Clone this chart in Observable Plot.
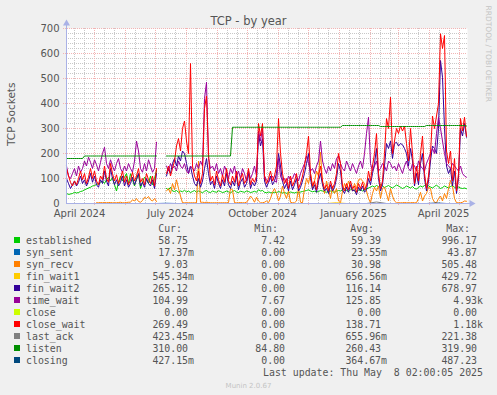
<!DOCTYPE html>
<html>
<head>
<meta charset="utf-8">
<script src="https://cdn.jsdelivr.net/npm/d3@7"></script>
<script src="https://cdn.jsdelivr.net/npm/@observablehq/plot@0.6"></script>
<style>
html, body { margin:0; padding:0; background:#f0f0f0; }
#wrap { position:relative; width:497px; height:395px; overflow:hidden; background:#f0f0f0; color:#555; font-family:"DejaVu Sans", sans-serif; }
#chart { position:absolute; left:0; top:0; }
.t { position:absolute; white-space:pre; line-height:1; }
.m { font-family:"DejaVu Sans Mono", monospace; font-size:9.9px; color:#555; }
</style>
</head>
<body>
<div id="wrap">
  <div id="chart"></div>
  <div class="t" style="left:0;width:497px;text-align:center;top:16.3px;font-size:11.5px;">TCP - by year</div>
  <div class="t" style="left:-49.3px;width:120px;text-align:center;top:109.25px;font-size:10.5px;transform:rotate(-90deg);">TCP Sockets</div>
  <div class="t" style="left:437.8px;width:100px;text-align:center;top:49.7px;font-size:7.5px;color:#c4c4c4;transform:rotate(90deg);">RRDTOOL / TOBI OETIKER</div>
  <div id="legend"></div>
  <div class="t" style="left:0;width:497px;text-align:center;top:383px;font-size:7px;color:#c4c4c4;">Munin 2.0.67</div>
</div>
<script>
// ---- time axis ----
const firstDay = "2024-04-03";
const lastDay = "2025-05-09";
const stepDays = 2;        // main series: one value every 2 days
const sparseStepDays = 10; // near-zero series: one value every 10 days
const labelTicks = ["2024-04-16", "2024-07-16", "2024-10-16", "2025-01-15", "2025-04-15"];
const yTicks = [0, 100, 200, 300, 400, 500, 600, 700];

// ---- series values ----
const established = [
41,36,38,40,45,42,44,48,50,55,
58,62,65,70,72,76,79,85,90,80,
95,105,90,105,75,50,85,110,90,105,
120,80,119,95,70,100,118,60,85,105,
95,80,110,75,100,132,null,null,null,null,
60,55,65,50,48,52,45,50,47,53,
46,50,44,48,52,45,50,47,43,49,
52,46,44,50,47,45,51,48,44,46,
50,47,43,48,52,46,44,49,47,45,
50,48,44,46,49,45,55,50,52,45,
43,46,44,42,45,43,48,45,42,44,
41,43,46,44,42,45,43,46,48,50,
52,55,50,47,49,46,48,52,50,47,
45,48,50,47,45,49,52,50,55,60,
52,48,55,58,50,47,53,56,50,54,
58,62,65,70,66,72,68,75,70,64,
68,72,66,62,68,74,70,65,60,64,
70,66,62,68,60,58,64,70,66,72,
78,70,66,62,68,74,66,60,64,70,
66,62,68,72,65,60,66,62,60,62,
59];

const synSent = [0,0,0,0,0,0,0,0,0,0, 1,0,0,0,0,0,0,0,0,0, 0,0,0,0,0,0,0,0,0,0, 0,0,0,0,0,0,0,0,0,0, 0];

const synRecv = [
null,null,null,null,null,null,null,null,null,null,
null,null,null,null,null,3,3,4,3,4,
3,4,4,3,3,3,4,5,3,3,
4,5,5,15,10,20,8,5,12,25,
20,28,15,10,20,8,null,null,null,null,
50,60,40,80,55,95,60,30,3,3,
3,3,3,3,3,3,170,5,5,4,
5,4,3,3,3,3,3,3,3,3,
3,3,60,55,3,3,3,4,3,3,
5,15,30,20,5,25,10,3,3,5,
10,3,20,45,60,40,10,30,70,40,
20,50,5,3,3,10,60,5,3,60,
100,80,120,60,90,130,110,205,80,40,
90,60,20,70,40,60,10,3,50,80,
60,90,70,50,80,60,95,99,90,80,
50,20,3,40,65,50,70,20,60,65,
40,10,60,30,10,3,3,3,3,4,
3,3,3,4,3,3,20,45,10,30,
40,65,60,20,5,3,20,30,10,40,
20,60,92,70,20,3,3,3,5,10,
9];

const finWait1 = [0,0,0,0,0,0,0,0,0,0, 0,0,0,0,0,0,0,0,0,0, 0,0,0,0,0,0,0,3,0,0, 0,0,0,0,0,0,0,0,0,0, 0];

const finWait2 = [
100,80,60,75,90,70,85,110,80,95,
70,90,120,85,110,75,65,95,80,130,
90,70,140,100,75,95,70,85,110,70,
95,65,80,105,75,95,120,70,85,65,
100,80,70,95,60,120,null,null,null,null,
110,140,120,160,180,150,190,170,210,200,
160,120,150,110,80,70,100,65,90,140,
180,120,75,90,60,110,80,60,95,70,
120,75,60,90,70,110,55,85,100,65,
80,120,60,85,70,90,280,230,260,90,
65,85,110,75,90,120,200,150,90,60,
80,50,90,55,75,100,50,65,90,120,
160,200,100,55,75,45,90,120,75,50,
60,40,75,50,65,100,160,130,55,40,
65,45,75,50,55,35,65,50,70,45,
55,100,75,120,160,220,100,50,75,150,
240,220,250,180,240,245,230,240,235,220,
200,150,220,170,70,120,75,160,200,100,
50,90,170,230,220,200,300,572,505,300,
150,120,140,70,130,40,100,300,270,320,
265];

const timeWait = [
150,110,100,120,140,110,150,125,140,170,
150,185,165,140,175,155,130,165,200,225,
160,140,175,150,130,160,180,140,125,150,
130,160,140,125,170,250,210,140,125,160,
130,175,150,125,140,245,null,null,null,null,
150,130,160,140,150,130,170,150,140,160,
130,120,150,140,130,160,140,170,150,420,
485,180,140,150,130,160,120,140,110,150,
130,100,140,120,150,110,130,100,140,120,
90,130,100,120,150,110,290,250,300,110,
95,85,100,110,90,85,180,110,90,100,
80,110,95,100,120,110,90,120,140,160,
190,160,130,140,120,150,170,250,170,140,
120,150,130,160,140,180,190,160,140,130,
170,150,130,160,140,120,150,170,140,200,
280,345,160,130,150,170,130,140,160,150,
130,170,160,140,150,130,160,140,120,150,
170,140,130,160,150,130,170,150,140,130,
160,180,200,220,200,280,345,300,250,200,
160,150,140,160,150,140,130,150,120,110,
105];

const closeState = [0,0,0,0,0,0,0,0,0,0, 0,0,0,0,0,0,0,0,0,0, 0,0,0,0,0,0,0,0,0,0, 0,0,0,0,0,0,0,0,0,0, 0];

const closeWait = [
140,110,85,70,90,75,100,130,95,120,
80,105,140,100,130,90,75,110,95,150,
100,85,160,120,90,115,80,100,130,85,
110,75,95,125,90,110,140,85,100,75,
120,95,80,110,70,140,null,null,null,null,
120,150,110,140,170,230,260,210,300,330,
250,200,560,150,110,90,130,80,120,380,
430,200,90,110,75,130,95,70,115,85,
140,90,75,110,85,130,70,100,120,80,
95,140,75,100,85,110,320,270,320,110,
80,100,130,90,110,150,340,200,120,80,
100,60,110,70,90,120,60,80,110,150,
200,270,120,70,90,55,110,150,90,60,
75,50,90,60,80,120,200,160,70,50,
80,55,90,60,70,45,80,60,85,55,
70,130,90,150,200,280,120,60,90,200,
340,300,425,200,250,300,280,310,290,310,
240,170,300,200,80,150,90,200,270,120,
60,110,200,350,300,350,400,679,620,672,
210,160,210,90,180,50,120,340,290,345,
269];

const lastAck = [0,0,0,0,0,0,0,0,0,0, 0,0,0,0,0,0,0,0,0,0, 0,0,0,0,0,0,0,0,0,0, 0,6,0,0,0,0,0,0,0,0, 0];

const listen = [
180,180,180,180,180,180,180,180,180,190,
190,190,190,190,190,190,190,190,190,190,
190,190,190,190,190,190,190,190,190,190,
190,190,190,190,190,190,190,190,190,190,
190,190,190,190,190,190,null,null,null,null,
190,190,190,190,190,190,190,190,190,190,
190,190,190,190,190,190,190,190,190,190,
190,190,190,190,190,190,190,190,190,190,
190,190,190,305,305,305,305,305,305,305,
305,305,305,305,305,305,305,305,305,305,
305,305,305,305,305,305,305,305,305,305,
305,305,305,305,305,305,305,305,305,305,
305,305,305,305,305,305,305,305,305,305,
305,305,305,305,305,305,305,305,312,312,
312,312,312,312,312,312,312,312,312,312,
312,312,312,312,312,312,312,308,308,308,
308,308,308,308,308,308,308,308,308,308,
308,308,308,308,308,308,308,308,308,308,
312,312,312,312,312,312,312,312,312,312,
312,312,312,312,312,312,312,312,312,312,
310];

const closing = [0,0,0,0,0,0,0,0,0,0, 0,0,0,0,0,0,0,0,0,0, 0,0,0,0,0,0,0,0,0,0, 0,0,0,0,0,0,0,2,0,0, 0];

// ---- legend ----
const names   = ["established","syn_sent","syn_recv","fin_wait1","fin_wait2","time_wait","close","close_wait","last_ack","listen","closing"];
const colors  = ["#00cc00","#0066b3","#ff8000","#ffcc00","#330099","#990099","#ccff00","#ff0000","#808080","#008f00","#00487d"];
const curVals = ["58.75 ","17.37m","9.03 ","545.34m","265.12 ","104.99 ","0.00 ","269.49 ","423.45m","310.00 ","427.15m"];
const minVals = ["7.42 ","0.00 ","0.00 ","0.00 ","0.00 ","7.67 ","0.00 ","0.00 ","0.00 ","84.80 ","0.00 "];
const avgVals = ["59.39 ","23.55m","30.98 ","656.56m","116.14 ","125.85 ","0.00 ","138.71 ","655.96m","260.43 ","364.67m"];
const maxVals = ["996.17 ","43.87 ","505.48 ","429.72 ","678.97 ","4.93k","0.00 ","1.18k","221.38 ","319.90 ","487.23 "];
const headers = ["Cur:","Min:","Avg:","Max:"];
const lastUpdate = "Last update: Thu May  8 02:00:05 2025";

// ---- build chart ----
const t0 = new Date(firstDay + "T00:00:00Z");
const t1 = new Date(lastDay + "T00:00:00Z");
const toRows = (vals, step) => vals.map((v, i) => ({date: d3.utcDay.offset(t0, i * step), v}));
const seriesValues = [established, synSent, synRecv, finWait1, finWait2, timeWait, closeState, closeWait, lastAck, listen, closing];
const seriesSteps = [stepDays, sparseStepDays, stepDays, sparseStepDays, stepDays, stepDays, sparseStepDays, stepDays, sparseStepDays, stepDays, sparseStepDays];

const monthStarts = d3.utcMonth.range(t0, t1);
const minorX = d3.utcDay.range(t0, t1).filter(d => d.getUTCDate() === 11 || d.getUTCDate() === 21);
const minorY = d3.range(20, 700, 20).filter(v => v % 100 !== 0);
const majorY = yTicks.filter(v => v > 0);
const labelDates = labelTicks.map(s => new Date(s + "T00:00:00Z"));
const axisColor = "#a9b1e6";
const majorColor = "#f2b4b4";
const minorColor = "#c8c8c8";

const lineMarks = seriesValues.map((vals, k) =>
  Plot.line(toRows(vals, seriesSteps[k]), {x: "date", y: "v", stroke: colors[k], strokeWidth: 1})
);

const chart = Plot.plot({
  width: 497, height: 225,
  marginLeft: 66, marginRight: 30, marginTop: 28, marginBottom: 22,
  x: {type: "utc", domain: [t0, t1]},
  y: {domain: [0, 700]},
  style: {background: "transparent", fontFamily: "DejaVu Sans", fontSize: "10px", color: "#555", overflow: "visible"},
  marks: [
    Plot.frame({fill: "#ffffff", stroke: null}),
    Plot.ruleY(minorY, {stroke: minorColor, strokeDasharray: "1,1"}),
    Plot.ruleX(minorX, {stroke: minorColor, strokeDasharray: "1,1"}),
    Plot.ruleX(monthStarts, {stroke: majorColor, strokeDasharray: "1,1", insetBottom: -3}),
    Plot.ruleY(majorY, {stroke: majorColor, strokeDasharray: "1,1", insetLeft: -3}),
    ...lineMarks,
    Plot.ruleY([0], {stroke: axisColor, insetRight: -3}),
    Plot.ruleX([t0], {stroke: axisColor, insetTop: -3}),
    Plot.dot([t1], {x: d => d, y: () => 0, symbol: "triangle", r: 2.6, fill: axisColor, stroke: null, rotate: 90, dx: 4}),
    Plot.dot([t0], {x: d => d, y: () => 700, symbol: "triangle", r: 2.6, fill: axisColor, stroke: null, dy: -5}),
    Plot.axisX(labelDates, {tickSize: 0, tickPadding: 6, tickFormat: d3.utcFormat("%B %Y"), label: null, fontSize: 10}),
    Plot.axisY(yTicks, {tickSize: 0, tickPadding: 7, label: null, fontSize: 10})
  ]
});
document.getElementById("chart").appendChild(chart);

// ---- legend (HTML below the SVG) ----
const legend = document.getElementById("legend");
const W = 497;
function addText(txt, style) {
  const d = document.createElement("div");
  d.className = "t m";
  d.textContent = txt;
  Object.assign(d.style, style);
  legend.appendChild(d);
}
const headerRight = [182, 278, 374, 470];
const colRight = [194, 291, 387, 483];
const rowTop = 236.3;
headers.forEach((h, j) => addText(h, {right: (W - headerRight[j]) + "px", top: (rowTop - 12) + "px"}));
names.forEach((n, k) => {
  const top = rowTop + 12 * k;
  const sq = document.createElement("div");
  Object.assign(sq.style, {position: "absolute", left: "14px", top: (236.6 + 12 * k) + "px", width: "6px", height: "6px", background: colors[k]});
  legend.appendChild(sq);
  addText(n, {left: "26px", top: top + "px"});
  [curVals, minVals, avgVals, maxVals].forEach((col, j) => addText(col[k], {right: (W - colRight[j]) + "px", top: top + "px"}));
});
addText(lastUpdate, {right: (W - 483) + "px", top: (rowTop + 12 * 11) + "px"});
</script>
</body>
</html>
